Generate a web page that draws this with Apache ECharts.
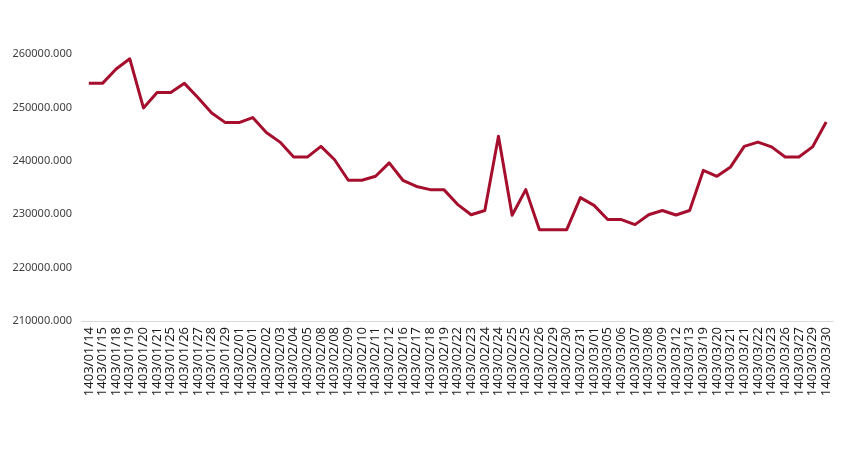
<!DOCTYPE html>
<html>
<head>
<meta charset="utf-8">
<script src="https://cdn.jsdelivr.net/npm/echarts@6/dist/echarts.min.js"></script>
<style>html,body{margin:0;padding:0;background:#fff;}#c{width:850px;height:450px;}</style>
</head>
<body>
<div id="c"></div>
<script>
const categories = [
  "1403/01/14","1403/01/15","1403/01/18","1403/01/19","1403/01/20","1403/01/21","1403/01/25","1403/01/26","1403/01/27","1403/01/28","1403/01/29",
  "1403/02/01","1403/02/01","1403/02/02","1403/02/03","1403/02/04","1403/02/05","1403/02/08","1403/02/08","1403/02/09","1403/02/10","1403/02/11","1403/02/12",
  "1403/02/16","1403/02/17","1403/02/18","1403/02/19","1403/02/22","1403/02/23","1403/02/24","1403/02/24","1403/02/25","1403/02/25","1403/02/26","1403/02/29","1403/02/30","1403/02/31",
  "1403/03/01","1403/03/05","1403/03/06","1403/03/07","1403/03/08","1403/03/09","1403/03/12","1403/03/13","1403/03/19","1403/03/20","1403/03/21","1403/03/21",
  "1403/03/22","1403/03/23","1403/03/26","1403/03/27","1403/03/29","1403/03/30"
];
const values = [
  254500,254500,257200,259100,249900,252800,252800,254500,251800,248950,247150,
  247150,248100,245300,243500,240700,240700,242700,240200,236350,236350,237100,239600,
  236350,235200,234600,234600,231850,229900,230700,244600,229800,234600,227100,227100,227100,233100,
  231650,229000,229000,228050,229900,230700,229850,230700,238200,237100,238850,242700,
  243500,242600,240700,240700,242600,247250
];
const yMin = 210000, yMax = 260000, yStep = 10000;

const chart = echarts.init(document.getElementById('c'), null, {renderer:'canvas'});
chart.setOption({
  animation: false,
  backgroundColor: '#ffffff',
  grid: {left: 82, right: 17, top: 54, bottom: 129, containLabel: false},
  xAxis: {
    type: 'category',
    data: categories,
    boundaryGap: true,
    axisLine: {show: true, lineStyle: {color: '#d9d9d9', width: 1}},
    axisTick: {show: false},
    axisLabel: {
      interval: 0, rotate: 90, margin: 6,
      color: '#1a1a1a', fontSize: 13, fontFamily: 'Noto Sans'
    },
    splitLine: {show: false}
  },
  yAxis: {
    type: 'value',
    min: yMin, max: yMax, interval: yStep,
    axisLine: {show: false},
    axisTick: {show: false},
    splitLine: {show: false},
    axisLabel: {
      margin: 10,
      color: '#404040', fontSize: 11, fontFamily: 'Noto Sans',
      formatter: v => v.toFixed(3)
    }
  },
  series: [{
    type: 'line',
    data: values,
    symbol: 'none',
    lineStyle: {color: '#a50f2d', width: 3, join: 'round'},
    itemStyle: {color: '#a50f2d'}
  }]
});
</script>
</body>
</html>
